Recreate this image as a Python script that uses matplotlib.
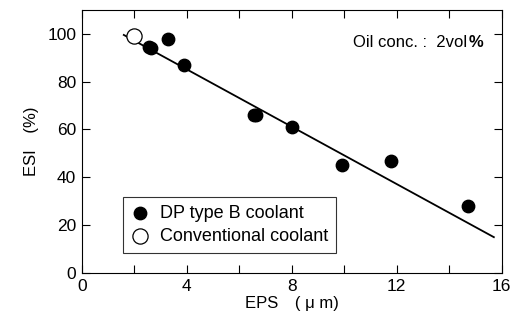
import matplotlib
matplotlib.use("Agg")
import matplotlib.pyplot as plt
from matplotlib.ticker import MultipleLocator

plt.rcParams['font.family'] = ['Liberation Sans', 'DejaVu Sans']

# DP type B coolant
dp_eps = [2.55, 2.65, 3.3, 3.9, 6.55, 6.65, 8.0, 9.9, 11.8, 14.7]
dp_esi = [94.5, 94.2, 98.0, 87.0, 66.0, 66.0, 61.0, 45.0, 47.0, 28.0]
# conventional coolant
conv_eps = [2.0]
conv_esi = [99.0]
# fitted line
fit_eps = [1.6, 15.7]
fit_esi = [99.5, 15.0]

fig, ax = plt.subplots(figsize=(5.21, 3.27), dpi=100)
fig.subplots_adjust(left=0.157, right=0.963, top=0.97, bottom=0.165)

ax.plot(fit_eps, fit_esi, color='black', lw=1.3, zorder=2)
ax.scatter(dp_eps, dp_esi, s=80, c='black', edgecolors='black', zorder=3,
           label='DP type B coolant')
ax.scatter(conv_eps, conv_esi, s=120, c='white', edgecolors='black', lw=0.9,
           zorder=4, label='Conventional coolant')

ax.set_xlim(0, 16)
ax.set_ylim(0, 110)
ax.xaxis.set_major_locator(MultipleLocator(4))
ax.xaxis.set_minor_locator(MultipleLocator(2))
ax.yaxis.set_major_locator(MultipleLocator(20))
ax.yaxis.set_minor_locator(MultipleLocator(20))
ax.tick_params(which='both', direction='in', top=True, right=True,
               labelsize=12.5, length=6, width=0.8, pad=4)

ax.set_xlabel('EPS\u3000( \u03bc m)', fontsize=12, labelpad=2,
              family=['Liberation Sans', 'Noto Sans CJK JP'])
ax.set_ylabel('ESI\u3000(%)', fontsize=12, labelpad=6,
              family=['Liberation Sans', 'Noto Sans CJK JP'])

ax.text(0.918, 0.875, 'Oil conc. :  2vol', transform=ax.transAxes,
        ha='right', va='center', fontsize=12)
ax.text(0.92, 0.875, '%', transform=ax.transAxes, ha='left', va='center',
        fontsize=12, fontweight='bold')

leg = ax.legend(loc='lower left', bbox_to_anchor=(0.097, 0.075),
                fontsize=13, frameon=True, fancybox=False, edgecolor='black',
                handletextpad=0.6, borderpad=0.45, labelspacing=0.35,
                handlelength=1.0, borderaxespad=0)
leg.get_frame().set_linewidth(0.8)

for sp in ax.spines.values():
    sp.set_linewidth(0.8)

fig.savefig('out.png', dpi=100)
